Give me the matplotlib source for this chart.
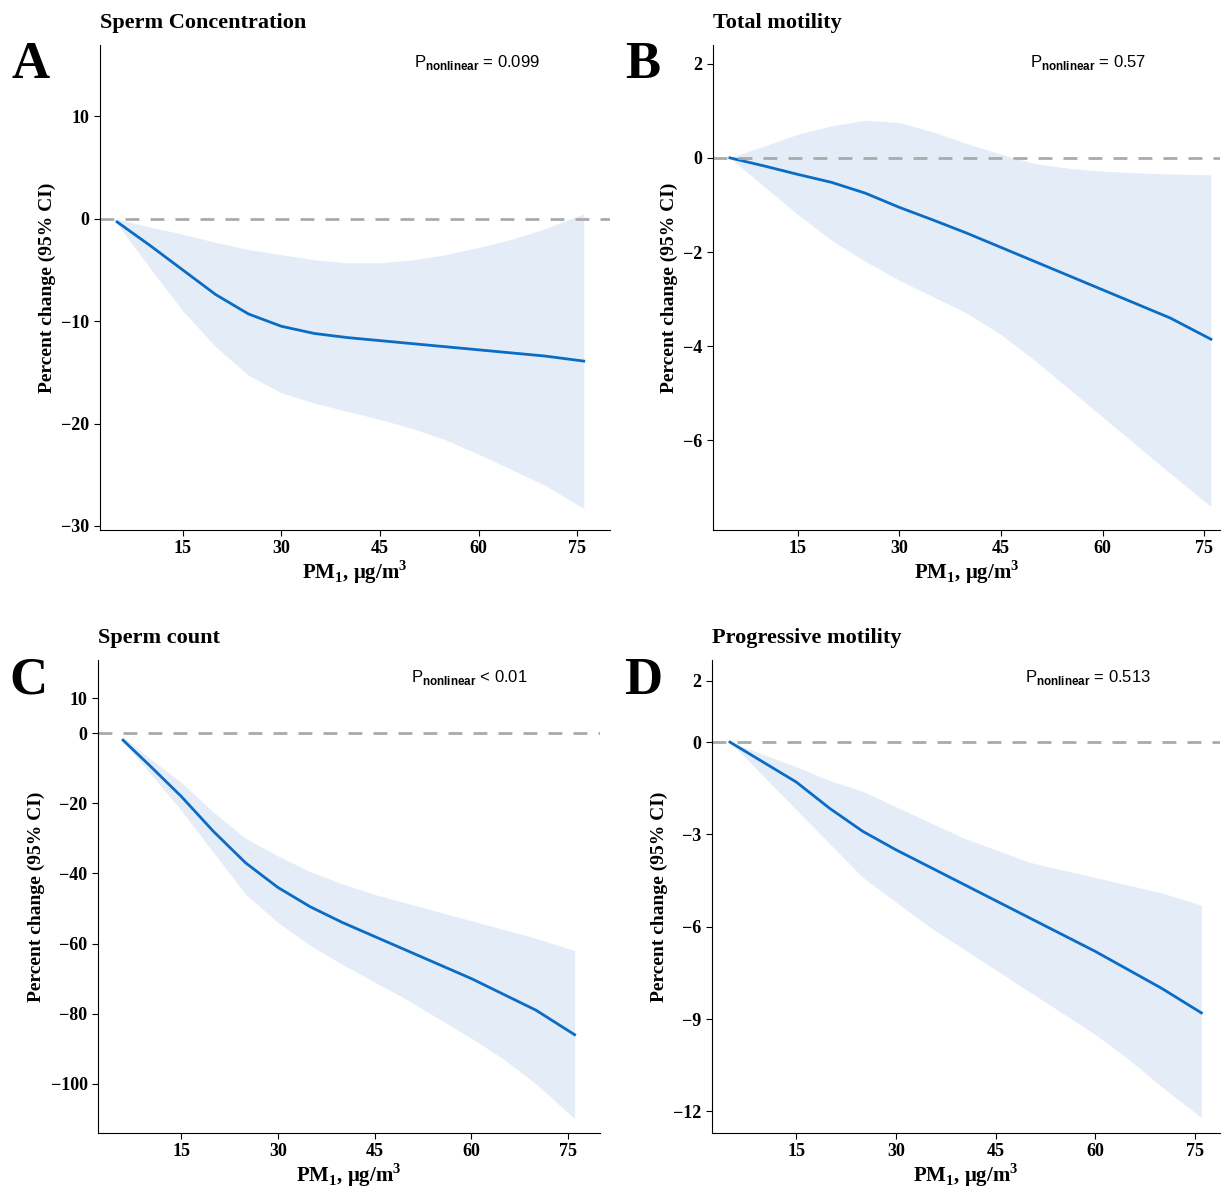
import matplotlib
matplotlib.use("Agg")
import matplotlib.pyplot as plt

serif = ["Liberation Serif", "DejaVu Serif"]
plt.rcParams["font.family"] = serif
plt.rcParams["font.weight"] = "bold"
plt.rcParams["mathtext.fontset"] = "custom"
plt.rcParams["mathtext.rm"] = "Liberation Serif:bold"
plt.rcParams["mathtext.bf"] = "Liberation Serif:bold"
plt.rcParams["mathtext.sf"] = "Liberation Sans"

# ---- data ----
a_x = [5, 10, 15, 20, 25, 30, 35, 40, 45, 50, 55, 60, 65, 70, 76]
a_fit = [-0.3, -2.6, -5.0, -7.4, -9.3, -10.5, -11.2, -11.6, -11.9, -12.2, -12.5, -12.8, -13.1, -13.4, -13.9]
a_up = [0, -0.8, -1.5, -2.3, -3.0, -3.5, -4.0, -4.3, -4.3, -4.0, -3.5, -2.8, -2.0, -1.0, 0.5]
a_lo = [-0.5, -4.8, -9.0, -12.5, -15.3, -17.0, -18.0, -18.8, -19.6, -20.5, -21.6, -23.0, -24.5, -26.0, -28.3]

b_x = [5, 10, 15, 20, 25, 30, 35, 40, 45, 50, 55, 60, 65, 70, 76]
b_fit = [0, -0.17, -0.35, -0.52, -0.75, -1.05, -1.32, -1.6, -1.9, -2.2, -2.5, -2.8, -3.1, -3.4, -3.85]
b_up = [0, 0.25, 0.5, 0.68, 0.8, 0.75, 0.55, 0.3, 0.08, -0.12, -0.22, -0.28, -0.32, -0.34, -0.36]
b_lo = [0, -0.6, -1.2, -1.75, -2.2, -2.6, -2.95, -3.3, -3.75, -4.3, -4.9, -5.5, -6.1, -6.7, -7.4]

c_x = [6, 10, 15, 20, 25, 30, 35, 40, 45, 50, 55, 60, 65, 70, 76]
c_fit = [-2, -9, -18, -28, -37, -44, -49.5, -54, -58, -62, -66, -70, -74.5, -79, -86]
c_up = [-1, -7, -14, -22.5, -30, -35, -39.5, -43, -46, -48.5, -51, -53.5, -56, -58.5, -62]
c_lo = [-2.5, -11, -22, -34, -46, -54, -60.5, -66, -71, -76, -81.5, -87, -93, -100, -110]

d_x = [5, 10, 15, 20, 25, 30, 35, 40, 45, 50, 55, 60, 65, 70, 76]
d_fit = [0, -0.65, -1.3, -2.15, -2.9, -3.5, -4.05, -4.6, -5.15, -5.7, -6.25, -6.8, -7.4, -8.0, -8.8]
d_up = [0, -0.4, -0.8, -1.25, -1.6, -2.1, -2.6, -3.1, -3.5, -3.9, -4.15, -4.4, -4.65, -4.9, -5.3]
d_lo = [0, -1.1, -2.2, -3.3, -4.4, -5.2, -6.0, -6.7, -7.4, -8.1, -8.8, -9.5, -10.3, -11.2, -12.2]

panels = [
    ("A", "Sperm Concentration", a_x, a_fit, a_up, a_lo, [-30, -20, -10, 0, 10], (2.4, 80), (-30.4, 17),
     "= 0.099", [0.0817, 0.5565, 0.4167, 0.406]),
    ("B", "Total motility", b_x, b_fit, b_up, b_lo, [-6, -4, -2, 0, 2], (2.5, 77.3), (-7.9, 2.4),
     "= 0.57", [0.5825, 0.5565, 0.414, 0.406]),
    ("C", "Sperm count", c_x, c_fit, c_up, c_lo, [-100, -80, -60, -40, -20, 0, 10], (2.1, 79.9), (-114, 20.8),
     "< 0.01", [0.080, 0.052, 0.41, 0.3955]),
    ("D", "Progressive motility", d_x, d_fit, d_up, d_lo, [-12, -9, -6, -3, 0, 2], (2.3, 78.8), (-12.7, 2.66),
     "= 0.513", [0.5817, 0.052, 0.415, 0.3955]),
]

fig = plt.figure(figsize=(12.24, 11.95), dpi=100)
for letter, title, x, fit, up, lo, yt, xl, yl, ptxt, pos in panels:
    ax = fig.add_axes(pos)
    ax.fill_between(x, lo, up, color="#dce7f5", alpha=0.75, lw=0)
    ax.plot(x, fit, color="#0a6cc4", lw=2)
    ax.axhline(0, color="#aaaaaa", ls=(0, (5, 4)), lw=2)
    ax.set_xlim(*xl)
    ax.set_ylim(*yl)
    ax.set_xticks([15, 30, 45, 60, 75])
    ax.set_yticks(yt)
    ax.set_yticklabels([f"{v}".replace("-", "\u2212") for v in yt])
    for s in ("top", "right"):
        ax.spines[s].set_visible(False)
    ax.tick_params(labelsize=13, length=4)
    for lab in ax.get_xticklabels() + ax.get_yticklabels():
        lab.set_fontweight("bold")
    ax.set_xlabel(r"PM$_1$, μg/m$^3$", fontsize=15, fontweight="bold", labelpad=1)
    ax.set_ylabel("Percent change (95% CI)", fontsize=14, fontweight="bold")
    ax.text(0.0, 1.025, title, transform=ax.transAxes, fontsize=16, fontweight="bold", va="bottom")
    ax.text(0.74, 0.955, r"P$_{\mathsf{nonlinear}}$ " + ptxt, transform=ax.transAxes, fontsize=12,
            ha="center", family=["Liberation Sans", "DejaVu Sans"], fontweight="normal")
    ax.text(pos[0] - 0.072, pos[1] + pos[3] + 0.003, letter, transform=fig.transFigure,
            fontsize=38, fontweight="bold", va="top")

fig.savefig("out.png", dpi=100)
